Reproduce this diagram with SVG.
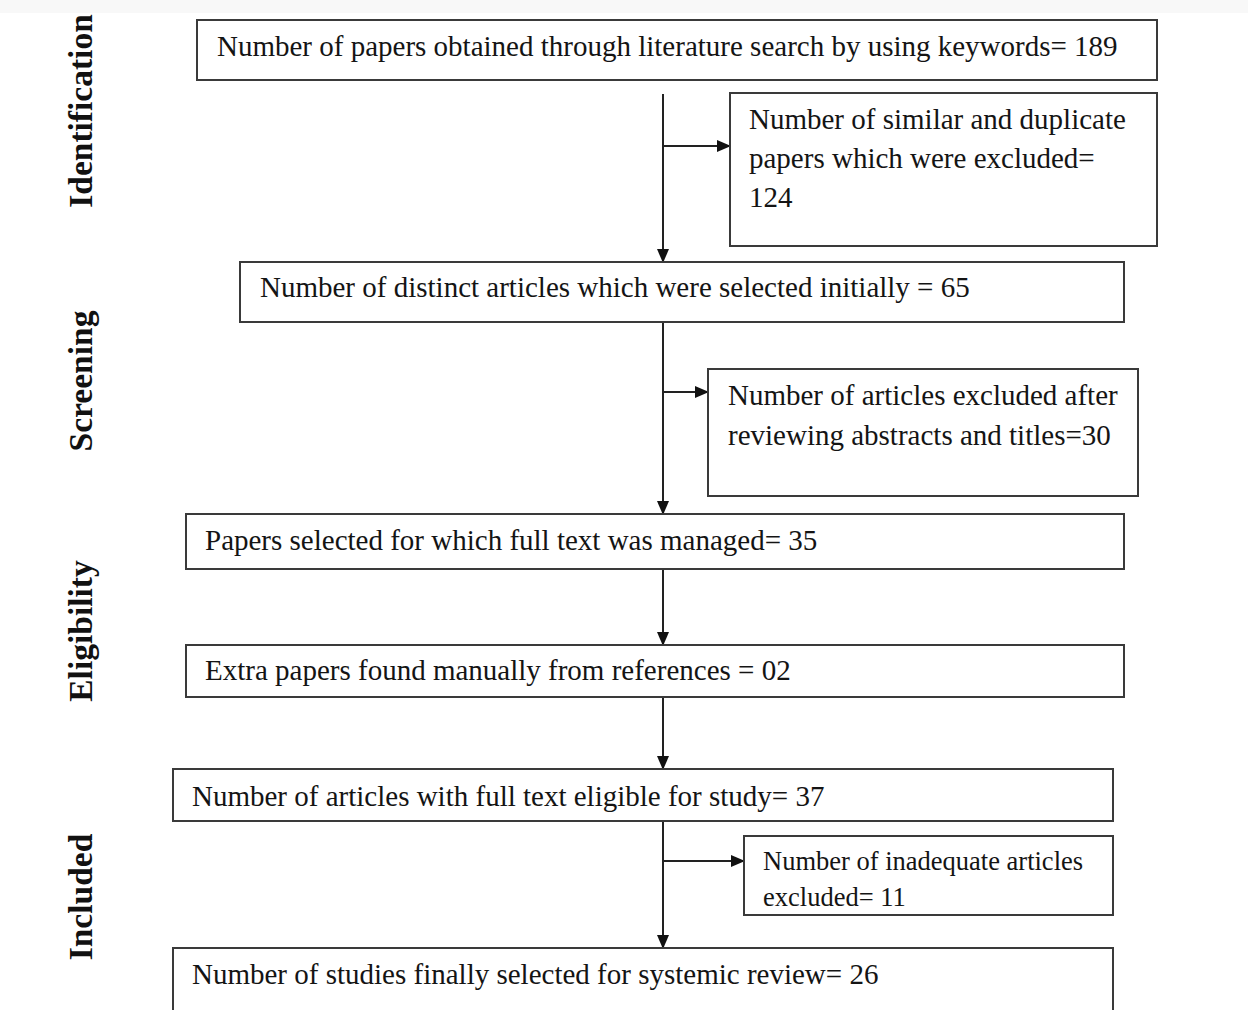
<svg xmlns="http://www.w3.org/2000/svg" width="1248" height="1010" viewBox="0 0 1248 1010">
<style>
.box{fill:#fff;stroke:#3a3a3a;stroke-width:2}
.t{font-family:"Liberation Serif","Times New Roman",serif;font-size:29px;fill:#141414}
.ts{font-family:"Liberation Serif","Times New Roman",serif;font-size:26.5px;fill:#141414}
.lab{font-family:"Liberation Serif","Times New Roman",serif;font-size:33.5px;font-weight:bold;fill:#111;text-anchor:middle}
.c{stroke:#222;stroke-width:2;fill:none}
</style>
<defs>
<marker id="ah" markerWidth="14" markerHeight="14" refX="13" refY="7" orient="auto" markerUnits="userSpaceOnUse">
<path d="M0,1 L14,7 L0,13 Z" fill="#111"/>
</marker>
</defs>
<rect x="0" y="0" width="1248" height="1010" fill="#fff"/>
<rect x="0" y="0" width="1248" height="13" fill="#f8f8f8"/>
<g id="labels">
<text class="lab" transform="translate(92,111) rotate(-90)">Identification</text>
<text class="lab" transform="translate(92,381) rotate(-90)">Screening</text>
<text class="lab" transform="translate(92,631) rotate(-90)">Eligibility</text>
<text class="lab" transform="translate(92,897) rotate(-90)">Included</text>
</g>
<g id="connectors">
<line class="c" x1="663" y1="94" x2="663" y2="262" marker-end="url(#ah)"/>
<line class="c" x1="663" y1="146" x2="730" y2="146" marker-end="url(#ah)"/>
<line class="c" x1="663" y1="322" x2="663" y2="514" marker-end="url(#ah)"/>
<line class="c" x1="663" y1="392" x2="708" y2="392" marker-end="url(#ah)"/>
<line class="c" x1="663" y1="569" x2="663" y2="645" marker-end="url(#ah)"/>
<line class="c" x1="663" y1="697" x2="663" y2="769" marker-end="url(#ah)"/>
<line class="c" x1="663" y1="821" x2="663" y2="948" marker-end="url(#ah)"/>
<line class="c" x1="663" y1="861" x2="744" y2="861" marker-end="url(#ah)"/>
</g>
<g id="n1"><rect class="box" x="197" y="20" width="960" height="60"/>
<text class="t" x="217" y="56">Number of papers obtained through literature search by using keywords= 189</text></g>
<g id="s1"><rect class="box" x="730" y="93" width="427" height="153"/>
<text class="t" x="749" y="129">Number of similar and duplicate</text>
<text class="t" x="749" y="168">papers which were excluded=</text>
<text class="t" x="749" y="207">124</text></g>
<g id="n2"><rect class="box" x="240" y="262" width="884" height="60"/>
<text class="t" x="260" y="297">Number of distinct articles which were selected initially = 65</text></g>
<g id="s2"><rect class="box" x="708" y="369" width="430" height="127"/>
<text class="t" x="728" y="405">Number of articles excluded after</text>
<text class="t" x="728" y="445">reviewing abstracts and titles=30</text></g>
<g id="n3"><rect class="box" x="186" y="514" width="938" height="55"/>
<text class="t" x="205" y="550">Papers selected for which full text was managed= 35</text></g>
<g id="n4"><rect class="box" x="186" y="645" width="938" height="52"/>
<text class="t" x="205" y="680">Extra papers found manually from references = 02</text></g>
<g id="n5"><rect class="box" x="173" y="769" width="940" height="52"/>
<text class="t" x="192" y="806">Number of articles with full text eligible for study= 37</text></g>
<g id="s3"><rect class="box" x="744" y="836" width="369" height="79"/>
<text class="ts" x="763" y="870">Number of inadequate articles</text>
<text class="ts" x="763" y="906">excluded= 11</text></g>
<g id="n6"><rect class="box" x="173" y="948" width="940" height="80"/>
<text class="t" x="192" y="984">Number of studies finally selected for systemic review= 26</text></g>
</svg>
